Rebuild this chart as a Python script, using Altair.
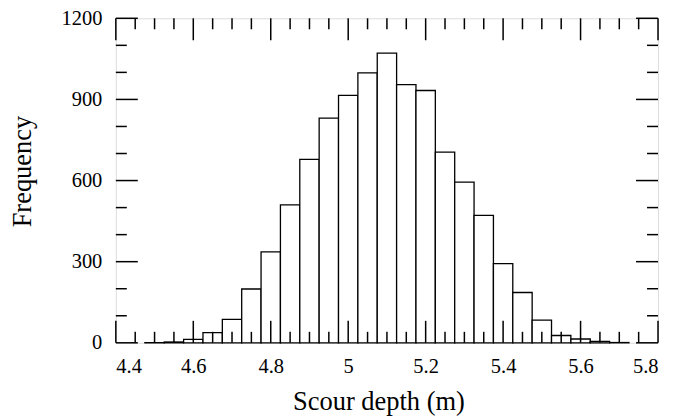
import altair as alt
import pandas as pd

# Histogram bins (centres, width 0.05) and counts
bin_centers = [4.50, 4.55, 4.60, 4.65, 4.70, 4.75, 4.80, 4.85, 4.90, 4.95,
               5.00, 5.05, 5.10, 5.15, 5.20, 5.25, 5.30, 5.35, 5.40, 5.45,
               5.50, 5.55, 5.60, 5.65, 5.70]
counts = [1, 3, 13, 38, 87, 199, 336, 510, 678, 831,
          915, 998, 1071, 955, 933, 705, 594, 471, 293, 186,
          84, 27, 14, 5, 1]
bin_width = 0.05

x_major = [4.4, 4.6, 4.8, 5.0, 5.2, 5.4, 5.6, 5.8]
x_minor = [4.45, 4.5, 4.55, 4.65, 4.7, 4.75, 4.85, 4.9, 4.95, 5.05, 5.1, 5.15,
           5.25, 5.3, 5.35, 5.45, 5.5, 5.55, 5.65, 5.7, 5.75]
y_major = [0, 300, 600, 900, 1200]
y_minor = [100, 200, 400, 500, 700, 800, 1000, 1100]

W, H = 543, 325
LONG, SHORT = 22, 11
FONT = "Liberation Serif"

df = pd.DataFrame({"c": bin_centers, "n": counts})
df["lo"] = df["c"] - bin_width / 2
df["hi"] = df["c"] + bin_width / 2

xscale = alt.Scale(domain=[4.4, 5.8], nice=False, zero=False)
yscale = alt.Scale(domain=[0, 1200], nice=False)

xaxis = alt.Axis(values=x_major, format="~g", ticks=False, domain=False,
                 grid=False, labelFont=FONT, labelFontSize=20.5,
                 labelColor="black", labelPadding=14,
                 title="Scour depth (m)", titleFont=FONT,
                 titleFontSize=26.5, titleFontWeight="normal",
                 titleColor="black", titleX=263, titleY=59,
                 titleBaseline="middle", titleAlign="center")
yaxis = alt.Axis(values=y_major, format="d", ticks=False, domain=False,
                 grid=False, labelFont=FONT, labelFontSize=20.5,
                 labelColor="black", labelPadding=14,
                 title="Frequency", titleFont=FONT, titleFontSize=26.5,
                 titleFontWeight="normal", titleColor="black",
                 titleX=-93, titleY=153, titleBaseline="middle",
                 titleAlign="center", titleAngle=-90)

bars = alt.Chart(df).mark_bar(fill="white", stroke="black", strokeWidth=1.3).encode(
    x=alt.X("lo:Q", scale=xscale, axis=xaxis),
    x2="hi:Q",
    y=alt.Y("n:Q", scale=yscale, axis=yaxis),
    y2=alt.datum(0),
)

def xticks(vals, length):
    d = pd.DataFrame({"v": vals})
    top = alt.Chart(d).mark_rule(color="black", strokeWidth=1.5).encode(
        x=alt.X("v:Q", scale=xscale, axis=xaxis),
        y=alt.value(0), y2=alt.value(length))
    bot = alt.Chart(d).mark_rule(color="black", strokeWidth=1.5).encode(
        x=alt.X("v:Q", scale=xscale, axis=xaxis),
        y=alt.value(H), y2=alt.value(H - length))
    return [top, bot]

def yticks(vals, length):
    d = pd.DataFrame({"v": vals})
    left = alt.Chart(d).mark_rule(color="black", strokeWidth=1.5).encode(
        y=alt.Y("v:Q", scale=yscale, axis=yaxis),
        x=alt.value(0), x2=alt.value(length))
    right = alt.Chart(d).mark_rule(color="black", strokeWidth=1.5).encode(
        y=alt.Y("v:Q", scale=yscale, axis=yaxis),
        x=alt.value(W), x2=alt.value(W - length))
    return [left, right]

layers = [bars] + xticks(x_major, LONG) + xticks(x_minor, SHORT) \
    + yticks(y_major, LONG) + yticks(y_minor, SHORT)

chart = alt.layer(*layers).properties(
    width=W, height=H,
    autosize=alt.AutoSizeParams(type="none"),
    padding={"left": 108, "top": 10, "right": 10, "bottom": 76},
).configure_view(stroke="black", strokeWidth=2, fill="white").configure(
    background="white")

chart.save("out.html", embed_options={"renderer": "svg", "actions": False})
